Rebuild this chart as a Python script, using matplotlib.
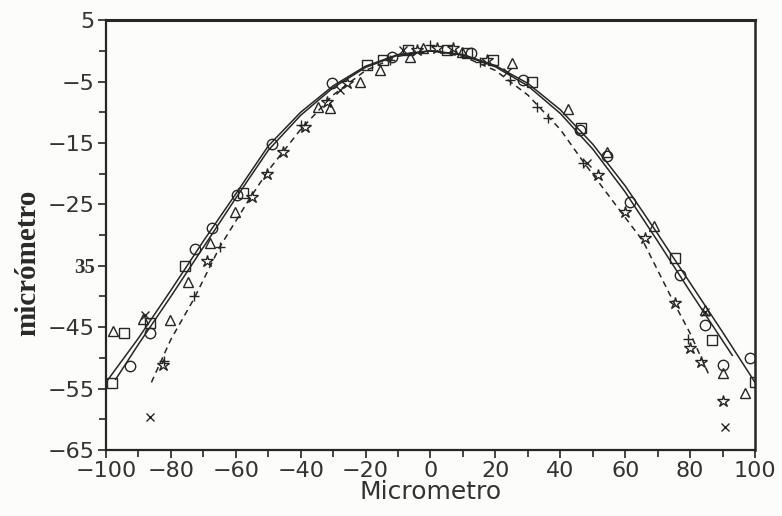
import matplotlib
matplotlib.use("Agg")
import matplotlib.pyplot as plt
import numpy as np

# fitted curves
fit1_x = [-100, -90, -80, -70, -60, -50, -40, -30, -20, -10, 0, 10, 20, 30, 40, 50, 60, 70, 80, 90, 100]
fit1_y = [-54, -46.8, -39, -31, -23.3, -15.5, -10, -5.7, -2.5, -0.6, 0, -0.6, -2.4, -5.3, -9.6, -15.2, -22, -29.8, -37.8, -45.8, -54]

fit2_x = [-97, -90, -80, -70, -60, -50, -40, -30, -20, -10, 0, 10, 20, 30, 40, 50, 60, 70, 80, 93]
fit2_y = [-53.5, -47.8, -40, -32, -24, -16.2, -10.5, -6, -2.7, -0.7, 0, -0.7, -2.6, -5.7, -10.2, -16, -23, -31, -39.2, -49.6]

fit3_x = [-86, -80, -73, -65, -56, -50, -40, -30, -20, -10, 0, 10, 20, 30, 40, 47, 57.5, 65.5, 75, 80, 86]
fit3_y = [-54, -47, -40.5, -32, -24.3, -19.5, -12.8, -7.2, -3.2, -0.9, 0, -0.9, -3.2, -7.2, -12.8, -18, -25.4, -31, -41, -46, -53]

# measured points
circ_x = [-92.6, -86.4, -72.6, -67.4, -59.7, -48.9, -30.4, -12, 12.6, 28.6, 46.1, 54.3, 61.5, 76.9, 84.6, 90.2, 98.5]
circ_y = [-51.3, -46, -32.3, -28.9, -23.5, -15.1, -5.3, -1, -0.4, -4.8, -12.9, -17.2, -24.6, -36.5, -44.6, -51.2, -50]

sq_x = [-98.2, -94.5, -86.4, -75.5, -57.7, -19.7, -14.6, -6.8, 5, 11.1, 19.3, 31.2, 46.5, 75.3, 86.6, 100]
sq_y = [-54.1, -46, -44.4, -35, -23.2, -2.3, -1.5, 0.1, 0.1, -0.4, -1.5, -5, -12.5, -33.8, -47.1, -53.9]

tri_x = [-97.7, -88.5, -80.3, -74.6, -68, -60.2, -34.7, -31, -21.7, -15.6, -6.3, -2.3, 9.6, 25, 42.5, 54.5, 69, 84.6, 90.2, 96.9]
tri_y = [-45.7, -43.6, -43.8, -37.6, -31.3, -26.2, -9.1, -9.3, -5, -3.1, -1, 0.4, -0.2, -2, -9.4, -16.5, -28.5, -42.2, -52.5, -55.7]

star_x = [-82.4, -69, -55.1, -50.5, -45.4, -38.7, -32, -25.8, -4.2, 1.9, 7, 17.3, 51.6, 60, 66.1, 75.3, 80.1, 83.3, 90.2]
star_y = [-51.2, -34.3, -23.8, -20, -16.4, -12.4, -8.3, -5.3, 0.1, 0.4, 0.4, -1.5, -20.2, -26.2, -30.5, -41.1, -48.4, -50.6, -57.1]

cross_x = [-86.4, -88, -28, -8.4, 23.5, 48.1, 84.6, 90.8]
cross_y = [-59.6, -43, -6.4, 0.1, -3.4, -18.3, -42.5, -61.2]

plus_x = [-82, -73, -64.9, -40, -12.5, -0.2, 15.3, 24.5, 32.7, 36.2, 47, 79.5]
plus_y = [-50.5, -40, -31.9, -12, -1.5, 0.9, -1.8, -4.8, -9.1, -11, -18.3, -47]

x_ticks = [-100, -80, -60, -40, -20, 0, 20, 40, 60, 80, 100]
y_ticks = [5, -5, -15, -25, -35, -45, -55, -65]
y_labels = ["5", "\u22125", "\u221215", "\u221225", "35", "\u221245", "\u221255", "\u221265"]

ink = "#262626"

fig = plt.figure(figsize=(7.82, 5.16), dpi=100)
fig.patch.set_facecolor("#fcfcfb")
ax = fig.add_axes([0.1355, 0.128, 0.83, 0.833])
ax.set_facecolor("#fcfcfb")

ax.plot(fit1_x, fit1_y, color=ink, lw=1.1)
ax.plot(fit2_x, fit2_y, color=ink, lw=1.1)
ax.plot(fit3_x, fit3_y, color=ink, lw=1.1, dashes=(4, 3))

mk = dict(ls="none", mfc="none", mec=ink, mew=1.0)
ax.plot(circ_x, circ_y, marker="o", ms=7.5, **mk)
ax.plot(sq_x, sq_y, marker="s", ms=6.5, **mk)
ax.plot(tri_x, tri_y, marker="^", ms=7.5, **mk)
ax.plot(star_x, star_y, marker="*", ms=9, **mk)
ax.plot(cross_x, cross_y, marker="x", ms=5.5, **mk)
ax.plot(plus_x, plus_y, marker="+", ms=7, **mk)

ax.set_xlim(-100, 100)
ax.set_ylim(-65, 5)
ax.set_xticks(x_ticks)
ax.set_xticks(np.arange(-90, 100, 20), minor=True)
ax.set_yticks(y_ticks)
ax.set_yticklabels(y_labels)
ax.set_yticks(np.arange(-60, 5, 10), minor=True)

ax.tick_params(which="both", direction="out", colors=ink, top=False, right=False)
ax.tick_params(which="major", length=6, width=1.2, labelsize=16, pad=2)
ax.tick_params(which="minor", length=5, width=1.2)
for lab in ax.get_xticklabels() + ax.get_yticklabels():
    lab.set_fontfamily("DejaVu Sans")
    lab.set_color("#333333")
lab35 = ax.get_yticklabels()[4]
lab35.set_fontfamily("Liberation Serif")
lab35.set_fontweight("bold")
lab35.set_fontsize(15)

for side in ["left", "bottom"]:
    ax.spines[side].set_linewidth(1.6)
ax.spines["top"].set_linewidth(2.2)
ax.spines["right"].set_linewidth(1.8)
for s in ax.spines.values():
    s.set_color(ink)

ax.set_xlabel("Micrometro", fontsize=18, family="DejaVu Sans", color="#333333", labelpad=-1)
fig.text(0.035, 0.49, "micrómetro", rotation=90, fontsize=21, family="Liberation Serif",
         fontweight="bold", color="#2a2a2a", ha="center", va="center")

fig.savefig("out.png", dpi=100, facecolor=fig.get_facecolor())
